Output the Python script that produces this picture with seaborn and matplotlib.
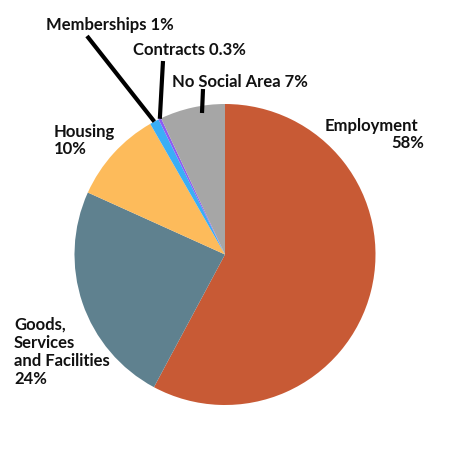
import matplotlib.pyplot as plt
import seaborn as sns
import numpy as np

labels = ['Employment', 'Goods,\nServices\nand Facilities', 'Housing', 'Memberships', 'Contracts', 'No Social Area']
shares = [58, 24, 10, 1, 0.3, 7]
pct_text = ['58%', '24%', '10%', '1%', '0.3%', '7%']
colors = ['#C85A35', '#5F818F', '#FDBB5B', '#3AAEF6', '#8C5CF2', '#A6A6A6']

sns.set_theme(style='white')
plt.rcParams['font.family'] = ['Lato', 'DejaVu Sans']

fig = plt.figure(figsize=(4.5, 4.5), dpi=100)
W = H = 450.0
cx, cy, r = 225, 254.5, 150.5
ax = fig.add_axes([(cx - r) / W, (H - cy - r) / H, 2 * r / W, 2 * r / H])
wedges, _ = ax.pie(shares, colors=sns.color_palette(colors), startangle=90,
                   counterclock=False, radius=1,
                   wedgeprops=dict(linewidth=0))
ax.set_xlim(-1, 1)
ax.set_ylim(-1, 1)
ax.set_aspect('equal')
ax.axis('off')


def px(x, y):
    # pixel (from top-left) -> data coords
    return (x - cx) / r, (cy - y) / r


def mid_point(w, rr=1.0):
    a = np.deg2rad((w.theta1 + w.theta2) / 2)
    return rr * np.cos(a), rr * np.sin(a)


kw = dict(fontsize=12, fontweight='bold', color='#111111', va='baseline')


def lines(x, y0, text, ha='left', step=18):
    for i, t in enumerate(text.split('\n')):
        ax.text(*px(x, y0 + i * step), t, ha=ha, **kw)


# leader lines
line_kw = dict(color='black', lw=3, clip_on=False, solid_capstyle='butt')
x0, y0 = px(87, 36)
x1, y1 = mid_point(wedges[3])
ax.plot([x0, x1], [y0, y1], **line_kw)
x0, y0 = px(163, 61)
x1, y1 = mid_point(wedges[4])
ax.plot([x0, x1], [y0, y1], **line_kw)
x0, y0 = px(203, 89)
x1, y1 = px(202, 113)
ax.plot([x0, x1], [y0, y1], **line_kw)

# labels
ax.text(*px(418, 131), labels[0], ha='right', **kw)
ax.text(*px(424, 148), pct_text[0], ha='right', **kw)
lines(14, 330, labels[1] + '\n' + pct_text[1])
lines(54, 137, labels[2] + '\n' + pct_text[2], step=17)
ax.text(*px(46, 30), labels[3] + ' ' + pct_text[3], ha='left', **kw)
ax.text(*px(133, 55), labels[4] + ' ' + pct_text[4], ha='left', **kw)
ax.text(*px(172, 87), labels[5] + ' ' + pct_text[5], ha='left', **kw)

fig.savefig('out.png', dpi=100)
